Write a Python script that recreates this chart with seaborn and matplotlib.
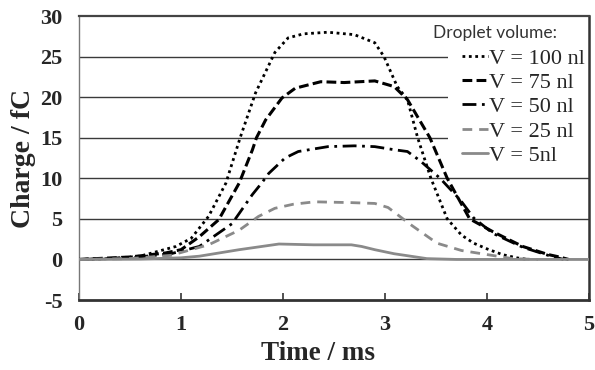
import matplotlib
matplotlib.use("Agg")
import matplotlib.pyplot as plt
import seaborn as sns
from matplotlib.patches import Rectangle

# ---- data ----
t_100 = [0, 0.3, 0.6, 0.95, 1.1, 1.27, 1.44, 1.58, 1.73, 1.92, 2.05, 2.2, 2.44, 2.7, 2.9, 2.99,
         3.12, 3.22, 3.32, 3.45, 3.61, 3.75, 3.87, 4.0, 4.15, 4.29, 4.4]
q_100 = [0, 0.1, 0.4, 1.6, 2.6, 5.3, 9.4, 15, 20.5, 25.5, 27.3, 27.8, 28.0, 27.7, 26.7, 25,
         21.3, 19.7, 15, 10, 5, 3, 2, 1.3, 0.6, 0.2, 0]

t_75 = [0, 0.5, 0.85, 1.0, 1.18, 1.37, 1.57, 1.70, 1.74, 1.83, 1.99, 2.12, 2.37, 2.6, 2.9,
        3.09, 3.22, 3.44, 3.61, 3.83, 4.06, 4.35, 4.6, 4.71, 4.8]
q_75 = [0, 0.3, 0.8, 1.2, 2.8, 4.9, 9.4, 13.5, 15, 17.2, 19.9, 21.1, 21.9, 21.8, 22.0,
        21.3, 19.7, 15, 10, 5, 3.4, 1.6, 0.6, 0.3, 0]

t_50 = [0, 0.5, 0.9, 1.18, 1.34, 1.50, 1.70, 1.79, 1.86, 2.02, 2.15, 2.44, 2.7, 2.9, 3.1,
        3.22, 3.35, 3.54, 3.74, 3.87, 4.06, 4.35, 4.6, 4.75]
q_50 = [0, 0.2, 0.7, 1.6, 3, 4.4, 8.0, 9.4, 10.6, 12.5, 13.3, 13.9, 14.0, 13.9, 13.5,
        13.3, 12.1, 10, 7.3, 5.1, 3.2, 1.5, 0.5, 0]

t_25 = [0, 0.5, 0.9, 1.27, 1.57, 1.76, 1.92, 2.1, 2.31, 2.67, 2.9, 3.03, 3.25, 3.51, 3.75,
        4.0, 4.25, 4.5]
q_25 = [0, 0.1, 0.5, 1.8, 3.6, 5.3, 6.3, 6.8, 7.1, 7.0, 6.9, 6.4, 4.3, 2.0, 1.1,
        0.6, 0.1, 0]

t_5 = [0, 0.6, 1.0, 1.18, 1.57, 1.96, 2.3, 2.67, 2.77, 2.9, 3.09, 3.41, 3.7, 5.0]
q_5 = [0, 0.05, 0.2, 0.4, 1.2, 1.9, 1.8, 1.8, 1.6, 1.2, 0.7, 0.1, 0, 0]

labels = ["V = 100 nl", "V = 75 nl", "V = 50 nl", "V = 25 nl", "V = 5nl"]
legend_title = "Droplet volume:"
x_ticks = [0, 1, 2, 3, 4, 5]
y_ticks = [-5, 0, 5, 10, 15, 20, 25, 30]

# ---- figure ----
sns.set_style("white")
fig = plt.figure(figsize=(5.95, 3.70), dpi=100)
AX_L, AX_R, AX_T, AX_B = 79, 589, 16, 300
ax = fig.add_axes([AX_L / 595, (370 - AX_B) / 370, (AX_R - AX_L) / 595, (AX_B - AX_T) / 370])
W = AX_R - AX_L
H = AX_B - AX_T

series = [
    (t_100, q_100, dict(color="black", lw=2.0, linestyle=(0, (1, 1.3)))),
    (t_75, q_75, dict(color="black", lw=2.2, linestyle=(0, (3.2, 1.4)))),
    (t_50, q_50, dict(color="black", lw=2.0, linestyle=(0, (5, 2, 1, 2)))),
    (t_25, q_25, dict(color="#8a8a8a", lw=2.0, linestyle=(0, (3.5, 2.5)))),
    (t_5, q_5, dict(color="#8a8a8a", lw=2.0, linestyle="-")),
]
for (t, q, kw), lab in zip(series, labels):
    sns.lineplot(x=t, y=q, ax=ax, label=lab, zorder=3, **kw)

ax.set_xlim(0, 5)
ax.set_ylim(-5, 30)
ax.set_xticks(x_ticks)
ax.set_yticks(y_ticks)
ax.set_xticklabels([str(v) for v in x_ticks])
ax.set_yticklabels([str(v) for v in y_ticks])

for yv in y_ticks[1:-1]:
    ax.axhline(yv, color="#3a3a3a", lw=1.0, zorder=1)

serif = "Liberation Serif"
for lab in ax.get_xticklabels() + ax.get_yticklabels():
    lab.set_fontfamily(serif)
    lab.set_fontweight("bold")
    lab.set_fontsize(16)

ax.tick_params(axis="x", direction="in", length=5, width=1.2, color="#333333", pad=11, bottom=True)
ax.tick_params(axis="y", length=0, pad=12)

ax.set_xlabel("Time / ms", fontfamily=serif, fontweight="bold", fontsize=19.5)
ax.set_ylabel("Charge / fC", fontfamily=serif, fontweight="bold", fontsize=20)
ax.yaxis.set_label_coords((23 - AX_L) / W, 0.5)
ax.xaxis.set_label_coords((318 - AX_L) / W, -(353 - AX_B) / H)
ax.xaxis.label.set_va("center")
ax.yaxis.label.set_va("center")

for side, (c, w) in {"left": ("#777777", 1.0), "bottom": ("#333333", 2.0),
                     "top": ("#444444", 1.6), "right": ("#333333", 1.8)}.items():
    ax.spines[side].set_visible(True)
    ax.spines[side].set_color(c)
    ax.spines[side].set_linewidth(w)

# legend area (white background hides gridlines)
ax.add_patch(Rectangle(((448 - AX_L) / W, (AX_B - 160) / H), 1, 1, transform=ax.transAxes,
                       facecolor="white", edgecolor="none", zorder=2, clip_on=True))
ax.text((433 - AX_L) / W, (AX_B - 33) / H, legend_title, transform=ax.transAxes,
        fontfamily="Lato", fontsize=12.5, color="#333333", va="center", ha="left", zorder=4)

leg = ax.legend(loc="upper left", bbox_to_anchor=((462 - AX_L) / W, (AX_B - 48) / H),
                frameon=False, prop={"family": serif, "size": 16}, handlelength=1.15,
                handletextpad=0.05, labelspacing=0.17, borderpad=0, borderaxespad=0)
leg.set_zorder(5)

fig.savefig("out.png", dpi=100)
